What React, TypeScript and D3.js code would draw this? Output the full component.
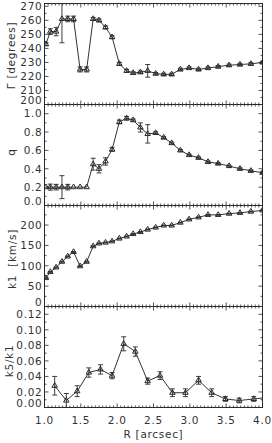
import React, { useEffect, useRef } from 'react';
import * as d3 from 'd3';

// radii of the fitted ellipses (arcsec)
const radius = [
  1.02, 1.08, 1.16, 1.24, 1.32, 1.4, 1.49, 1.58, 1.67, 1.75, 1.84, 1.93, 2.03, 2.13, 2.22,
  2.32, 2.42, 2.53, 2.64, 2.75, 2.87, 2.99, 3.12, 3.25, 3.39, 3.54, 3.69, 3.84, 4.0,
];
const gamma = [
  243, 252, 252, 261, 261, 261, 225, 225, 261, 260, 255, 248, 229, 224, 222.5,
  223, 224, 222, 221.5, 221.5, 225, 226, 225, 226, 227, 228, 228.5, 229, 230,
];
const gammaErr = [
  1, 2, 3, 17, 2, 2, 1.8, 1.8, 1, 1, 1, 1, 1, 1, 0.8,
  0.8, 4.5, 0.8, 0.8, 0.8, 0.8, 0.8, 0.8, 0.8, 0.8, 0.8, 0.8, 0.8, 0.8,
];
const q = [
  0.2, 0.2, 0.2, 0.2, 0.2, 0.2, 0.2, 0.2, 0.45, 0.4, 0.48, 0.61, 0.91, 0.95, 0.93,
  0.85, 0.78, 0.79, 0.74, 0.68, 0.6, 0.55, 0.52, 0.475, 0.457, 0.43, 0.4, 0.378, 0.357,
];
const qErr = [
  0, 0.033, 0.03, 0.125, 0.03, 0, 0, 0, 0.065, 0.045, 0.04, 0.02, 0.02, 0.02, 0.012,
  0.05, 0.1, 0.012, 0.01, 0.01, 0.01, 0.01, 0.01, 0.01, 0.01, 0.01, 0.01, 0.01, 0.01,
];
const k1 = [
  70, 85, 96, 110, 123, 134, 99, 110, 148, 155, 157, 160, 167, 172, 178,
  183, 189, 194, 199, 199, 206, 214, 219, 225, 225, 228, 230, 233, 236,
];
const k1Err = [
  1, 1, 1, 1, 1, 1, 1, 1, 1, 1, 1, 1, 1, 1, 1,
  1, 1, 1, 1, 1, 1, 1, 1, 1, 1, 1, 1, 1, 1,
];
// k5/k1 is sampled on its own, coarser set of radii
const radiusK5 = [
  1.14, 1.3, 1.45, 1.61, 1.77, 1.93, 2.09, 2.25, 2.42, 2.59, 2.76, 2.94, 3.12, 3.3, 3.49,
  3.68, 3.88, 4.07,
];
const k5k1 = [
  0.028, 0.009, 0.021, 0.045, 0.049, 0.041, 0.082, 0.072, 0.034, 0.041, 0.019, 0.019, 0.035,
  0.019, 0.011, 0.009, 0.011, 0.013,
];
const k5k1Err = [
  0.012, 0.009, 0.007, 0.006, 0.006, 0.004, 0.009, 0.006, 0.004, 0.005, 0.005, 0.005, 0.005,
  0.005, 0.003, 0.003, 0.003, 0.003,
];

const xTicks = [1.0, 1.5, 2.0, 2.5, 3.0, 3.5, 4.0];
const gammaTicks = [200, 210, 220, 230, 240, 250, 260, 270];
const qTicks = [0, 0.2, 0.4, 0.6, 0.8, 1.0];
const k1Ticks = [0, 50, 100, 150, 200];
const k5Ticks = [0, 0.02, 0.04, 0.06, 0.08, 0.1, 0.12];

const W = 272;
const H = 443;
const plotLeft = 44.5;
const plotRight = 262.5;
const panelTop = 3.5;
const panelHeight = 101;
const ink = '#2a2a2a';
const font = '"DejaVu Sans", sans-serif';
const fontSize = 10.5;
const spacing = 0.7;

const panels = [
  {
    key: 'gamma', r: radius, v: gamma, e: gammaErr, domain: [200, 272], ticks: gammaTicks,
    minor: 5, fmt: d3.format('d'), title: 'Γ [degrees]', titleX: 15, titleY: 55.5,
  },
  {
    key: 'q', r: radius, v: q, e: qErr, domain: [0, 1.1], ticks: qTicks,
    minor: 0.1, fmt: d3.format('.1f'), title: 'q', titleX: 15, titleY: 152,
  },
  {
    key: 'k1', r: radius, v: k1, e: k1Err, domain: [0, 248], ticks: k1Ticks,
    minor: 25, fmt: d3.format('d'), title: 'k1  [km/s]', titleX: 15.5, titleY: 259,
  },
  {
    key: 'k5', r: radiusK5, v: k5k1, e: k5k1Err, domain: [0, 0.13], ticks: k5Ticks,
    minor: 0.01, fmt: d3.format('.2f'), title: 'k5/k1', titleX: 12.5, titleY: 361,
  },
];

export default function App() {
  const svgRef = useRef<SVGSVGElement>(null);

  useEffect(() => {
    if (!svgRef.current) return;
    const svg = d3.select(svgRef.current);
    svg.selectAll('*').remove();

    const x = d3.scaleLinear().domain([1, 4]).range([plotLeft, plotRight]);
    const xMinor = d3.range(1, 4.0001, 0.05);
    const tri = d3.symbol().type(d3.symbolTriangle).size(13);

    const label = (sel: d3.Selection<any, any, any, any>) =>
      sel
        .attr('font-family', font)
        .attr('font-size', fontSize)
        .attr('letter-spacing', spacing)
        .attr('fill', '#333');

    panels.forEach((p, i) => {
      const top = panelTop + i * panelHeight;
      const bottom = top + panelHeight;
      const y = d3.scaleLinear().domain(p.domain).range([bottom, top]);
      const g = svg.append('g');

      const clipId = `clip-${p.key}`;
      g.append('clipPath')
        .attr('id', clipId)
        .append('rect')
        .attr('x', plotLeft)
        .attr('y', top)
        .attr('width', plotRight - plotLeft)
        .attr('height', panelHeight);

      // x ticks, top and bottom, pointing inward
      const tk = g.append('g').attr('stroke', ink).attr('stroke-width', 0.8);
      xMinor.forEach((t) => {
        const major = xTicks.some((m) => Math.abs(m - t) < 1e-6);
        const len = major ? 4 : 2;
        tk.append('line').attr('x1', x(t)).attr('x2', x(t)).attr('y1', bottom).attr('y2', bottom - len);
        tk.append('line').attr('x1', x(t)).attr('x2', x(t)).attr('y1', top).attr('y2', top + len);
      });

      // y ticks, left and right
      const yMinor = d3.range(p.domain[0], p.domain[1] + 1e-9, p.minor);
      yMinor.forEach((t) => {
        const major = p.ticks.some((m) => Math.abs(m - t) < 1e-6);
        const len = major ? 4 : 2;
        tk.append('line').attr('x1', plotLeft).attr('x2', plotLeft + len).attr('y1', y(t)).attr('y2', y(t));
        tk.append('line').attr('x1', plotRight).attr('x2', plotRight - len).attr('y1', y(t)).attr('y2', y(t));
      });

      // frame
      g.append('rect')
        .attr('x', plotLeft)
        .attr('y', top)
        .attr('width', plotRight - plotLeft)
        .attr('height', panelHeight)
        .attr('fill', 'none')
        .attr('stroke', ink)
        .attr('stroke-width', 1);

      // y tick labels (the lowest one sits a little higher, as in the original)
      g.append('g')
        .selectAll('text')
        .data(p.ticks)
        .join('text')
        .attr('x', plotLeft - 2)
        .attr('y', (d) => (d === p.domain[0] ? y(d) - 0.5 : y(d) + 3.8))
        .attr('text-anchor', 'end')
        .call(label)
        .text((d) => p.fmt(d));

      // y title
      g.append('text')
        .attr('transform', `translate(${p.titleX},${p.titleY}) rotate(-90)`)
        .attr('text-anchor', 'middle')
        .call(label)
        .style('white-space', 'pre')
        .text(p.title);

      const pts = p.r.map((r, j) => ({ r, v: p.v[j], e: p.e[j] }));
      const data = g.append('g').attr('clip-path', `url(#${clipId})`);

      const line = d3
        .line<{ r: number; v: number }>()
        .x((d) => x(d.r))
        .y((d) => y(d.v));

      data.append('path')
        .datum(pts)
        .attr('fill', 'none')
        .attr('stroke', '#333')
        .attr('stroke-width', 1)
        .attr('d', line);

      // error bars
      const eb = data.append('g').attr('stroke', ink).attr('stroke-width', 0.9);
      pts.filter((d) => d.e > 0).forEach((d) => {
        const cx = x(d.r);
        eb.append('line').attr('x1', cx).attr('x2', cx).attr('y1', y(d.v - d.e)).attr('y2', y(d.v + d.e));
        eb.append('line').attr('x1', cx - 2.5).attr('x2', cx + 2.5).attr('y1', y(d.v - d.e)).attr('y2', y(d.v - d.e));
        eb.append('line').attr('x1', cx - 2.5).attr('x2', cx + 2.5).attr('y1', y(d.v + d.e)).attr('y2', y(d.v + d.e));
      });

      // triangle markers
      data.append('g')
        .selectAll('path')
        .data(pts)
        .join('path')
        .attr('transform', (d) => `translate(${x(d.r)},${y(d.v)})`)
        .attr('d', tri)
        .attr('fill', 'none')
        .attr('stroke', ink)
        .attr('stroke-width', 1);

      // x tick labels and title on the bottom panel only
      if (i === panels.length - 1) {
        g.append('g')
          .selectAll('text')
          .data(xTicks)
          .join('text')
          .attr('x', (d) => x(d))
          .attr('y', bottom + 16.5)
          .attr('text-anchor', 'middle')
          .call(label)
          .text((d) => d3.format('.1f')(d));

        g.append('text')
          .attr('x', (plotLeft + plotRight) / 2)
          .attr('y', bottom + 30)
          .attr('text-anchor', 'middle')
          .call(label)
          .text('R [arcsec]');
      }
    });
  }, []);

  return (
    <svg
      ref={svgRef}
      width={W}
      height={H}
      style={{ position: 'absolute', left: 0, top: 0, background: '#fff' }}
    />
  );
}
